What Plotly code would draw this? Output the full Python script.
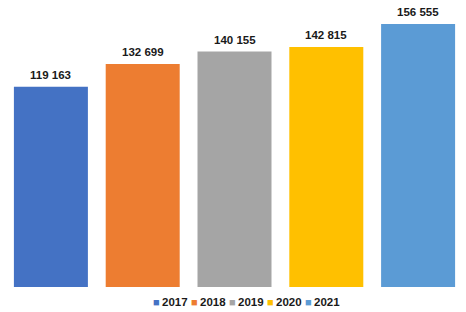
import plotly.graph_objects as go

years = ["2017", "2018", "2019", "2020", "2021"]
values = [119163, 132699, 140155, 142815, 156555]
colors = ["#4472C4", "#ED7D31", "#A5A5A5", "#FFC000", "#5B9BD5"]

W, H = 466, 312
ML, MR, MT, MB = 5, 2, 0, 25
pw = W - ML - MR
ph = H - MT - MB

fig = go.Figure()
for i, (yr, v, c) in enumerate(zip(years, values, colors)):
    fig.add_trace(go.Bar(
        x=[yr], y=[v], marker=dict(color=c, line=dict(width=0)),
        width=0.806, showlegend=False, hoverinfo="skip",
    ))
    fig.add_annotation(
        x=i, y=v, xref="x", yref="y", xanchor="center", yanchor="bottom",
        yshift=4, showarrow=False,
        text="<b>" + f"{v:,}".replace(",", " ") + "</b>",
        font=dict(family="Liberation Sans", size=11.5, color="#1a1a1a"),
    )

# legend built as annotations (compact Excel-style legend)
ly = -(301.5 - (MT + ph)) / ph
for i, (yr, c) in enumerate(zip(years, colors)):
    px = 152 + i * 38
    fig.add_annotation(
        x=(px - ML) / pw, y=ly, xref="paper", yref="paper",
        xanchor="left", yanchor="middle", showarrow=False,
        text="■", font=dict(family="Liberation Sans", size=11, color=c),
        borderpad=0,
    )
    fig.add_annotation(
        x=(px + 9 - ML) / pw, y=ly, xref="paper", yref="paper",
        xanchor="left", yanchor="middle", showarrow=False,
        text=f"<b>{yr}</b>",
        font=dict(family="Liberation Sans", size=11.5, color="#1a1a1a"),
        borderpad=0,
    )

fig.update_layout(
    width=W, height=H,
    margin=dict(l=ML, r=MR, t=MT, b=MB),
    paper_bgcolor="white", plot_bgcolor="white",
    barmode="overlay",
    font=dict(family="Liberation Sans"),
    xaxis=dict(type="category", range=[-0.5, 4.5], showgrid=False,
               showticklabels=False, zeroline=False, showline=False, ticks=""),
    yaxis=dict(range=[0, 170840], showgrid=False, showticklabels=False,
               zeroline=False, showline=False, ticks=""),
)

fig.write_html("out.html")
